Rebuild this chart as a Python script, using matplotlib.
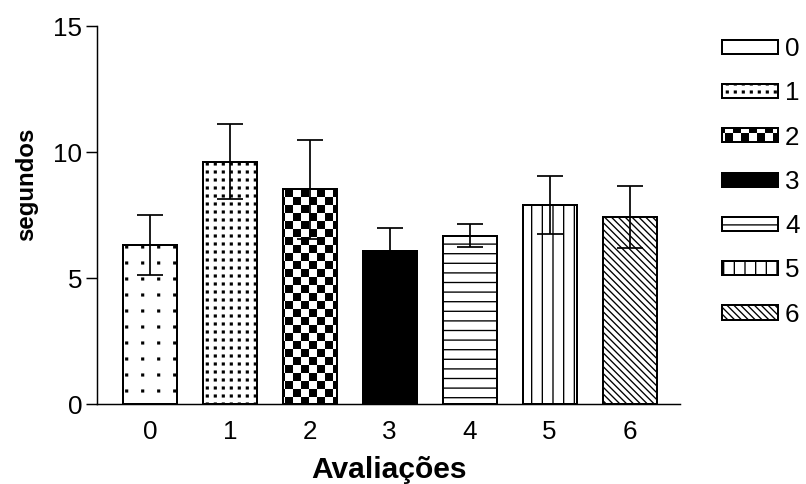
import numpy as np
import matplotlib
matplotlib.use('Agg')
import matplotlib.pyplot as plt
import matplotlib.hatch as mhatch
from matplotlib.path import Path

# ---------------- data ----------------
categories = ['0', '1', '2', '3', '4', '5', '6']
means = [6.31, 9.62, 8.52, 6.08, 6.68, 7.90, 7.41]
errors = [1.18, 1.50, 1.96, 0.89, 0.46, 1.14, 1.23]
yticks = [0, 5, 10, 15]
xlabel = 'Avaliações'
ylabel = 'segundos'

# ---------------- style ----------------
DPI = 96
plt.rcParams['font.family'] = ['Liberation Sans', 'DejaVu Sans']
plt.rcParams['hatch.linewidth'] = 1.0
HATCH_PX = plt.rcParams['hatch.linewidth'] * DPI / 72.0

hatches = ['.', '*', 'O', None, '-', '|', '\\']
faces = ['white', 'white', 'white', 'black', 'white', 'white', 'white']


class PatternHatch(mhatch.HatchPatternBase):
    """Custom GraphPad-like fill patterns (tile = 1 inch = DPI px)."""

    def __init__(self, hatch, density):
        v, c = [], []
        M, L, C = Path.MOVETO, Path.LINETO, Path.CLOSEPOLY
        T = float(DPI)

        def seg(x0, y0, x1, y1):
            v.extend([(x0, y0), (x1, y1)])
            c.extend([M, L])

        def sq_px(px, py, s_px):
            # square centred at pixel (px, py) (py from top), side s_px
            for dx in (-T, 0, T):
                for dy in (-T, 0, T):
                    cx = (px + dx) / T
                    cy = 1 - (py + dy) / T
                    h = s_px / T / 2.0
                    v.extend([(cx - h, cy - h), (cx + h, cy - h),
                              (cx + h, cy + h), (cx - h, cy + h),
                              (cx - h, cy - h)])
                    c.extend([M, L, L, L, C])

        if '.' in hatch:          # sparse dots, 16 px grid
            n = 6
            for i in range(n):
                for j in range(n):
                    sq_px(14.7 + 16 * i, 7 + 16 * j, 1.8)
        if '*' in hatch:          # dense dots, 8 px grid
            n = 12
            for i in range(n):
                for j in range(n):
                    sq_px(7.3 + 8 * i, 4 + 8 * j, 1.8)
        if 'O' in hatch:          # checkerboard, 8 px squares
            n = 12
            for i in range(n):
                for j in range(n):
                    if (i + j) % 2 == 0:
                        sq_px(1 + 8 * i, 1 + 8 * j, 8 - HATCH_PX)
        if '-' in hatch:
            n = 10
            for k in range(n):
                y = 1 - (4.1 + k * T / n) / T
                seg(-0.05, y, 1.05, y)
        if '|' in hatch:
            n = 9
            for k in range(n):
                x = (9.0 + k * T / n) / T
                seg(x, -0.05, x, 1.05)
        if '\\' in hatch:
            n = 14
            for k in range(-1, 2 * n + 2):
                cc = (k + 0.5) / n
                seg(cc - 1.2, 1.2, cc + 0.2, -0.2)

        self.verts = np.array(v, dtype=float).reshape(-1, 2)
        self.codes = np.array(c, dtype=Path.code_type)
        self.num_vertices = len(c)

    def set_vertices_and_codes(self, vertices, codes):
        vertices[:] = self.verts
        codes[:] = self.codes


mhatch._hatch_types[:] = [PatternHatch]

W, H = 806, 484
fig = plt.figure(figsize=(W / DPI, H / DPI), dpi=DPI)
ax = fig.add_axes([97 / W, 1 - 404 / H, (680 - 97) / W, (404 - 26) / H])

x = np.arange(len(categories))
for i in range(len(categories)):
    ax.bar(x[i], means[i], width=0.675, color=faces[i], edgecolor='black',
           linewidth=1.5, hatch=hatches[i], label=categories[i], zorder=2)

ax.errorbar(x, means, yerr=errors, fmt='none', ecolor='black',
            elinewidth=1.3, capsize=9.75, capthick=1.3, zorder=3)

ax.set_xlim(-0.66, 6.63)
ax.set_ylim(0, 15)
ax.set_yticks(yticks)
ax.set_xticks(x)
ax.set_xticklabels(categories)

for s in ['top', 'right']:
    ax.spines[s].set_visible(False)
for s in ['left', 'bottom']:
    ax.spines[s].set_linewidth(1.1)

TICK_FS = 19.5
ax.tick_params(axis='y', length=8, width=1.1, pad=3, labelsize=TICK_FS)
ax.tick_params(axis='x', length=0, pad=12, labelsize=TICK_FS)

ax.set_xlabel(xlabel, fontsize=22.5, fontweight='bold', va='baseline')
ax.xaxis.set_label_coords(0.5, (404 - 478) / 378)
ax.set_ylabel(ylabel, fontsize=18, fontweight='bold', va='center')
ax.yaxis.set_label_coords((27 - 97) / 583, (404 - 184) / 378)

fs_px = TICK_FS * DPI / 72
leg = ax.legend(loc='upper left', bbox_to_anchor=(722 / W, 1 - 37 / H),
                bbox_transform=fig.transFigure, frameon=False,
                fontsize=TICK_FS, handlelength=56 / fs_px,
                handleheight=12 / fs_px, handletextpad=7 / fs_px,
                labelspacing=0.78, borderpad=0, borderaxespad=0)

fig.savefig('out.png', dpi=DPI)
